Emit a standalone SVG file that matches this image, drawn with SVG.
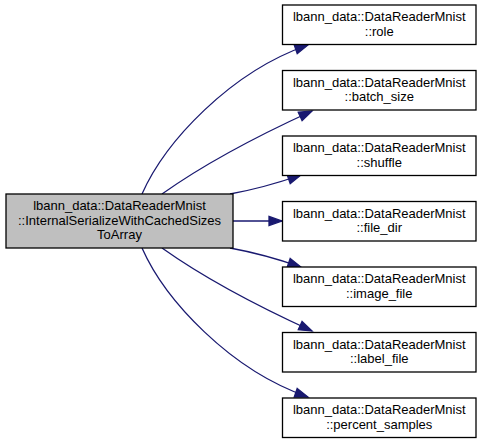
<svg xmlns="http://www.w3.org/2000/svg" width="483" height="443" viewBox="0 0 483 443">
<style>
.box{fill:#ffffff;stroke:#000000;stroke-width:1.3}
.src{fill:#bfbfbf;stroke:#000000;stroke-width:1.3}
text{font-family:"Liberation Sans",Arial,Helvetica,sans-serif;font-size:13px;fill:#000000;text-anchor:middle}
.edge{fill:none;stroke:#191970;stroke-width:1.3;marker-end:url(#arr)}
</style>
<defs>
<marker id="arr" markerUnits="userSpaceOnUse" markerWidth="16" markerHeight="12" viewBox="-1 -6 16 12" refX="13" refY="0" orient="auto">
<path d="M0,-4.6 L13,0 L0,4.6 Z" fill="#191970" stroke="#191970" stroke-width="1.3"/>
</marker>
</defs>
<rect width="483" height="443" fill="#ffffff"/>
<g id="connectors">
<path class="edge" d="M142,194 C165,142 230,72 308,45"/>
<path class="edge" d="M162,194 C200,167 255,137 312,111"/>
<path class="edge" d="M230,194 C252,190 275,184 301,175"/>
<path class="edge" d="M233,221 L282,221"/>
<path class="edge" d="M230,248 C252,252 275,258 301,267"/>
<path class="edge" d="M162,248 C200,275 255,305 312,331"/>
<path class="edge" d="M142,248 C165,300 230,370 308,397"/>
</g>
<g id="node-source">
<rect class="src" x="6" y="194" width="227" height="54"/>
<text x="119.5" y="210">lbann_data::DataReaderMnist</text>
<text x="119.5" y="224.5">::InternalSerializeWithCachedSizes</text>
<text x="119.5" y="239">ToArray</text>
</g>
<g id="node-role">
<rect class="box" x="282.5" y="5" width="193.5" height="39.5"/>
<text x="379.25" y="21">lbann_data::DataReaderMnist</text>
<text x="379.25" y="35.5">::role</text>
</g>
<g id="node-batch_size">
<rect class="box" x="282.5" y="70.5" width="193.5" height="39.5"/>
<text x="379.25" y="86.5">lbann_data::DataReaderMnist</text>
<text x="379.25" y="101">::batch_size</text>
</g>
<g id="node-shuffle">
<rect class="box" x="282.5" y="136" width="193.5" height="39.5"/>
<text x="379.25" y="152">lbann_data::DataReaderMnist</text>
<text x="379.25" y="166.5">::shuffle</text>
</g>
<g id="node-file_dir">
<rect class="box" x="282.5" y="201.5" width="193.5" height="39.5"/>
<text x="379.25" y="217.5">lbann_data::DataReaderMnist</text>
<text x="379.25" y="232">::file_dir</text>
</g>
<g id="node-image_file">
<rect class="box" x="282.5" y="267" width="193.5" height="39.5"/>
<text x="379.25" y="283">lbann_data::DataReaderMnist</text>
<text x="379.25" y="297.5">::image_file</text>
</g>
<g id="node-label_file">
<rect class="box" x="282.5" y="332.5" width="193.5" height="39.5"/>
<text x="379.25" y="348.5">lbann_data::DataReaderMnist</text>
<text x="379.25" y="363">::label_file</text>
</g>
<g id="node-percent_samples">
<rect class="box" x="282.5" y="398" width="193.5" height="39.5"/>
<text x="379.25" y="414">lbann_data::DataReaderMnist</text>
<text x="379.25" y="428.5">::percent_samples</text>
</g>
</svg>
